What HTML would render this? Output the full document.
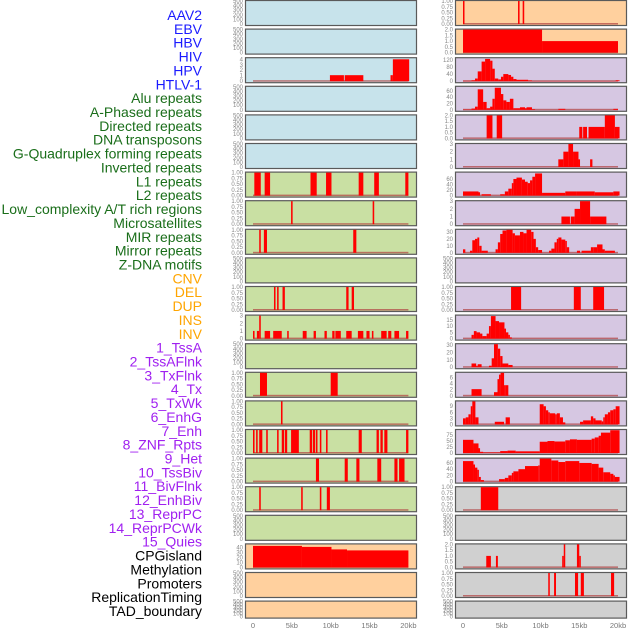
<!DOCTYPE html>
<html><head><meta charset="utf-8"><style>
html,body{margin:0;padding:0;background:#fff;width:630px;height:630px;overflow:hidden}
svg{display:block;font-family:"Liberation Sans",sans-serif}
</style></head><body>
<svg id="chart" width="630" height="630"></svg>
<script>
// ---------- data (kb, kb, value) ----------
const L0=[],L1=[],L3=[],L4=[],L5=[],L9=[],L12=[],L18=[],L20=[],L21=[];
const L2=[[9.9,11.7,1.1],[11.8,14.2,1.1],[17.7,18,1.1],[18,20.1,4]];
const L6=[[0.17,1.0,1],[1.5,2.2,1],[7.4,8.2,1],[9.4,10.1,1],[13.6,14.2,1],[15.6,16.2,1],[19.6,20,1]];
const L7=[[4.9,5.1,1],[15.4,15.6,1]];
const L8=[[0.8,1.0,1],[1.4,1.8,1],[12.9,13.3,1]];
const L10=[[2.7,2.9,1],[3.1,3.3,1],[3.8,4.1,1],[12.0,12.3,1],[12.7,13.0,1]];
const L11=[[0,0.2,1],[0.5,0.8,1],[0.8,1.0,3],[1.5,2.2,1],[2.6,3.7,1],[4.4,4.6,1],[6.4,6.9,1],[7.8,8.1,1],[9.2,9.5,1],[10.2,10.5,1],[10.6,11.3,1],[12.0,12.7,1],[13.5,14.2,1],[14.6,15.0,1],[15.3,15.5,1],[16.5,17.2,1],[17.4,17.8,1],[18.2,18.8,1],[19.7,20,1]];
const L13=[[0.9,1.8,1],[10,10.9,1]];
const L14=[[3.6,3.8,1]];
const L15=[[0,0.2,1],[0.4,0.6,1],[0.8,1.2,1],[1.7,1.9,1],[3.1,3.3,1],[3.7,4.0,1],[4.1,4.4,1],[4.9,5.9,1],[7.3,7.6,1],[7.7,8.0,1],[8.1,8.3,1],[8.6,8.8,1],[9.4,9.6,1],[13.6,14.0,1],[15.9,16.2,1],[16.4,16.7,1],[16.9,17.3,1],[19.7,20,1]];
const L16=[[8.1,8.5,1],[11.8,12.2,1],[13.3,13.7,1],[16,16.5,1],[18.2,18.6,1],[18.8,19.5,1]];
const L17=[[0.8,1.0,1],[6.2,6.4,1],[8.6,8.8,1],[9.5,9.9,1]];
const L19=[[0,6.3,43],[6.3,10.1,41],[10.1,12.1,36],[12.1,20,34]];
const R9=[],R18=[],R21=[];
const R0=[[0,0.15,1],[7.1,7.3,1],[7.7,7.9,1]];
const R1=[[0,10.2,2],[10.2,20,1]];
const R2=[[0,1.1,2],[1.1,1.55,5],[1.55,1.9,15],[1.9,2.4,55],[2.4,2.85,110],[2.85,3.5,125],[3.5,3.8,115],[3.8,4.1,70],[4.1,4.55,15],[4.55,4.9,10],[4.9,5.2,25],[5.2,5.85,40],[5.85,6.2,35],[6.2,6.5,25],[6.5,6.9,12],[6.9,8.4,8],[8.4,8.9,4],[8.9,19.7,1],[19.7,20.2,5]];
const R3=[[0,1.1,1],[1.1,1.55,4],[1.55,1.9,10],[1.9,2.6,65],[2.6,3.05,25],[3.05,3.5,5],[3.5,3.8,10],[3.8,4.1,35],[4.1,4.9,70],[4.9,5.2,50],[5.2,5.6,30],[5.6,6.05,25],[6.05,6.5,35],[6.5,7.35,5],[7.35,8.0,8],[8.0,8.2,5],[8.2,8.9,8],[8.9,9.3,2],[12.3,13.2,3],[19.4,20.0,3]];
const R4=[[3.05,3.8,2],[4.35,5.05,2],[15.0,15.4,1],[15.5,16.0,1],[16.2,18.3,1],[18.3,19.6,2],[19.6,20.2,1]];
const R5=[[12.3,12.95,1],[12.95,13.6,2],[13.6,14.2,3],[14.2,14.9,2],[14.9,15.1,1],[16.4,16.7,1]];
const R6=[[0,2.0,15],[2.0,2.2,12],[2.4,3.6,5],[4.8,5.4,5],[5.4,5.85,15],[5.85,6.3,25],[6.3,6.5,45],[6.5,6.9,60],[6.9,7.6,65],[7.6,8.0,58],[8.0,8.35,50],[8.35,8.65,45],[8.65,8.95,55],[8.95,9.3,68],[9.3,10.2,80],[10.2,13.2,10],[13.2,14.7,15],[14.7,17.0,15],[17.0,19.4,12],[19.4,20.2,15]];
const R7=[[12.7,13.8,1],[13.9,14.4,1],[14.4,15.1,2],[15.1,16.4,3],[16.4,18.5,1]];
const R8=[[0,0.3,5],[0.9,1.2,3],[1.2,1.55,18],[1.55,1.85,20],[1.85,2.1,22],[2.1,2.4,10],[2.4,3.2,3],[4.2,4.5,5],[4.5,4.8,15],[4.8,5.1,27],[5.1,5.6,32],[5.6,6.4,33],[6.4,6.7,28],[6.7,7.35,25],[7.35,7.8,30],[7.8,8.2,28],[8.2,8.8,33],[8.8,9.1,30],[9.1,9.4,20],[9.4,9.7,8],[9.7,10.2,4],[11.1,11.4,3],[11.4,11.8,6],[11.8,12.1,15],[12.1,12.3,20],[12.3,12.7,22],[12.7,13.2,19],[13.2,13.4,17],[13.4,13.7,8],[14.7,15.1,3],[15.3,16.5,3],[16.5,16.8,8],[16.8,17.3,8],[17.3,18.0,12],[18.0,18.3,5],[18.3,19.6,3]];
const R10=[[6.2,7.5,1],[14.3,15.2,1],[16.8,18.2,1]];
const R11=[[1.1,1.4,3],[1.4,1.75,6],[1.75,2.2,5],[2.2,2.5,4],[2.5,3.05,2],[3.05,3.35,4],[3.35,3.6,10],[3.6,4.2,18],[4.2,4.65,14],[4.65,5.35,13],[5.35,5.55,8],[5.55,5.85,5],[5.85,6.05,3],[6.05,6.3,1]];
const R12=[[1.1,1.7,5],[1.7,1.9,2],[1.9,2.4,4],[3.35,3.7,2],[3.7,4.0,12],[4.0,4.5,31],[4.5,4.8,25],[4.8,5.1,15],[5.1,5.85,5],[5.85,6.4,3]];
const R13=[[1.1,2.4,2.2],[4.0,4.45,1.2],[4.45,4.65,5.5],[4.65,4.85,7],[4.85,5.3,8],[5.3,5.5,3.5],[5.5,5.85,3.5]];
const R14=[[0,0.35,3],[0.35,0.7,3.5],[0.7,1.0,5],[1.0,1.2,9],[1.2,1.6,11.4],[1.6,2.0,3.5],[4.1,5.3,1.3],[5.5,6.05,3.5],[9.9,10.4,10],[10.4,10.7,9],[10.7,11.0,7],[11.0,11.2,6],[11.2,11.9,5.5],[11.9,12.1,5],[12.1,12.5,5.5],[12.5,12.9,3.5],[12.9,13.2,1],[15.1,15.5,1.3],[15.5,16.5,2],[16.5,16.8,4],[16.8,17.1,3],[17.1,17.9,2],[17.9,18.1,1.5],[18.1,18.3,3.5],[18.3,18.7,5],[18.7,19.0,6],[19.0,19.4,7],[19.4,19.7,7.5],[19.7,20.2,9]];
const R15=[[0,1.35,55],[1.35,2.0,40],[2.0,2.2,20],[2.2,2.6,5],[2.6,4.8,2],[4.8,5.75,8],[5.75,6.8,10],[6.8,9.9,7],[9.9,10.9,47],[10.9,11.8,50],[11.8,13.2,48],[13.2,13.8,53],[13.8,14.7,57],[14.7,16.6,55],[16.6,17.0,60],[17.0,17.5,65],[17.5,17.8,72],[17.8,19.0,85],[19.0,20.2,95]];
const R16=[[0,1.35,66],[1.35,1.55,55],[1.55,1.85,45],[1.85,2.05,38],[2.05,2.3,15],[2.3,2.7,5],[4.65,5.4,8],[5.4,5.85,12],[5.85,6.3,20],[6.3,6.5,28],[6.5,7.15,33],[7.15,8.0,40],[8.0,9.7,50],[9.7,9.9,52],[9.9,11.4,74],[11.4,12.3,68],[12.3,13.2,63],[13.2,15.0,66],[15.0,16.6,60],[16.6,17.5,57],[17.5,18.1,45],[18.1,19.0,30],[19.0,19.4,25],[19.4,19.6,20],[19.6,20.2,15]];
const R17=[[2.3,4.55,1]];
const R19=[[3.0,3.6,1],[4.25,4.5,1],[12.8,13.0,1],[13.0,13.1,2],[14.7,15.0,2],[15.0,15.2,1]];
const R20=[[11.0,11.2,1],[11.75,12.0,1],[14.45,14.85,1],[15.2,15.6,1],[19.1,19.5,1]];

const tickEmpty=[0,100,200,300,400,500];
const tickProb=[0,0.25,0.5,0.75,1];
const leftTicks=[tickEmpty,tickEmpty,[0,1,2,3,4],tickEmpty,tickEmpty,tickEmpty,tickProb,tickProb,tickProb,tickEmpty,tickProb,[0,1,2,3],tickEmpty,tickProb,tickProb,tickProb,tickProb,tickProb,tickEmpty,[0,10,20,30,40],tickEmpty,tickEmpty];
const leftMax=[500,500,4.2,500,500,500,1,1,1,500,1,3,500,1,1,1,1,1,500,46,500,500];
const rightTicks=[tickProb,[0,0.5,1,1.5,2],[0,40,80,120],[0,20,40,60],[0,0.5,1,1.5,2],[0,1,2,3],[0,20,40,60],[0,1,2,3],[0,10,20,30],tickEmpty,tickProb,[0,5,10,15],[0,10,20,30],[0,2,4,6],[0,3,6,9],[0,25,50,75],[0,20,40,60],tickProb,tickEmpty,[0,0.5,1,1.5,2],tickProb,tickEmpty];
const rightMax=[1,2,129,73,2,3,83,3,33,500,1,18.4,31,7.6,11.4,96,74,1,500,2,1,500];
const leftData=[L0,L1,L2,L3,L4,L5,L6,L7,L8,L9,L10,L11,L12,L13,L14,L15,L16,L17,L18,L19,L20,L21];
const rightData=[R0,R1,R2,R3,R4,R5,R6,R7,R8,R9,R10,R11,R12,R13,R14,R15,R16,R17,R18,R19,R20,R21];
const leftBg=['b','b','b','b','b','b','g','g','g','g','g','g','g','g','g','g','g','g','g','o','o','o'];
const rightBg=['o','o','p','p','p','p','p','p','p','p','p','p','p','p','p','p','p','y','y','y','y','y'];
const xTicks=[0,5,10,15,20];
const xTickLabels=['0','5kb','10kb','15kb','20kb'];
const labels=['AAV2','EBV','HBV','HIV','HPV','HTLV-1','Alu repeats','A-Phased repeats','Directed repeats','DNA transposons','G-Quadruplex forming repeats','Inverted repeats','L1 repeats','L2 repeats','Low_complexity A/T rich regions','Microsatellites','MIR repeats','Mirror repeats','Z-DNA motifs','CNV','DEL','DUP','INS','INV','1_TssA','2_TssAFlnk','3_TxFlnk','4_Tx','5_TxWk','6_EnhG','7_Enh','8_ZNF_Rpts','9_Het','10_TssBiv','11_BivFlnk','12_EnhBiv','13_ReprPC','14_ReprPCWk','15_Quies','CPGisland','Methylation','Promoters','ReplicationTiming','TAD_boundary'];
const labelGroup=[6,13,5,15,5];

// ---------- drawing ----------
const NS='http://www.w3.org/2000/svg';
const svg=document.getElementById('chart');
const bgColors={b:'#c7e3eb',g:'#c9e0a3',o:'#ffd09e',p:'#d6c7e2',y:'#d0d0d0'};
const groupColors=['#1a1aff','#1a6e1a','#ffa500','#a020f0','#000000'];
function mk(tag,attrs,parent){const e=document.createElementNS(NS,tag);for(const k in attrs)e.setAttribute(k,attrs[k]);(parent||svg).appendChild(e);return e;}
function fmt(v,ticks){if(ticks===tickProb)return v.toFixed(2);if(ticks.some(t=>t%1!==0))return v.toFixed(1);return String(v);}

function drawPanel(col,row,data,ticks,ymax,bg){
  const x0=col===0?245:455, w=171;
  const origin=col===0?253:463, kbScale=col===0?7.77:7.75;
  const top=row*28.6, h=row===21?17:25;
  const xs=kb=>origin+kb*kbScale;
  const ys=v=>top+h-1-(Math.min(v,ymax)/ymax)*(h-2);
  const g=mk('g',{});
  
  
  const r=mk('rect',{x:x0+0.5,y:top+0.5,width:w,height:h,fill:bgColors[bg],stroke:'#5a5a5a','stroke-width':1.2},g);
  
  
  if(data.length){
    const bl=mk('rect',{x:xs(0),y:top+h-2,width:xs(20)-xs(0),height:1.5,fill:'#b04040',opacity:0.7},g);
    
    
  }
  data.forEach(d=>{
    const xa=xs(d[0]),xb=xs(d[1]);
    const b=mk('rect',{x:xa,y:ys(d[2]),width:Math.max(xb-xa,1.5),height:top+h-1-ys(d[2]),fill:'#ff0000'},g);
    
    
  });
  ticks.forEach(t=>{
    const tx=mk('text',{x:x0-2,y:ys(t)+2,'font-size':6,fill:'#888','text-anchor':'end'},g);
    tx.textContent=fmt(t,ticks);
    
    
  });
}
for(let i=0;i<22;i++){
  drawPanel(0,i,leftData[i],leftTicks[i],leftMax[i],leftBg[i]);
  drawPanel(1,i,rightData[i],rightTicks[i],rightMax[i],rightBg[i]);
}
// x axes
[0,1].forEach(col=>{
  const origin=col===0?253:463, kbScale=col===0?7.77:7.75;
  xTicks.forEach((t,i)=>{
    const tx=mk('text',{x:origin+t*kbScale,y:628,'font-size':7.5,fill:'#777','text-anchor':'middle'});
    tx.textContent=xTickLabels[i];
    
    
  });
});
// labels
let gi=0,cnt=0;
labels.forEach((l,i)=>{
  if(cnt>=labelGroup[gi]){gi++;cnt=0;}
  cnt++;
  const tx=mk('text',{x:202,y:20+i*13.86,'font-size':14,fill:groupColors[gi],'text-anchor':'end'});
  tx.textContent=l;
  
  
});
</script>
</body></html>
